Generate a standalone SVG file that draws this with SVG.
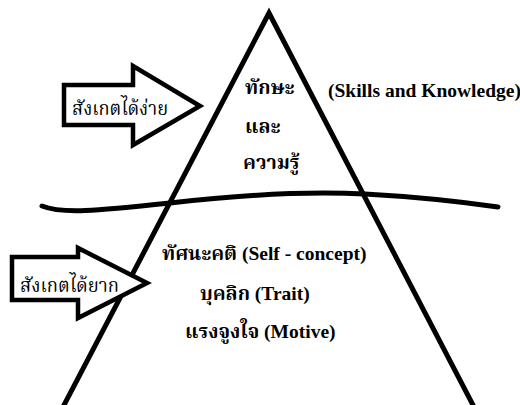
<svg xmlns="http://www.w3.org/2000/svg" width="520" height="405" viewBox="0 0 520 405">
  <style>
    .line { fill: none; stroke: #000; stroke-width: 5; stroke-linecap: round; stroke-linejoin: miter; }
    .arrow { fill: #fff; stroke: #000; stroke-width: 4.5; stroke-linejoin: miter; }
    .th { font-family: "Liberation Serif", "Noto Serif Thai", "Noto Sans Thai", serif; fill: #000; }
    .lbl { font-size: 20px; }
    .body { font-size: 19.5px; font-weight: bold; }
  </style>
  <rect width="520" height="405" fill="#fff"/>

  <!-- pyramid outline and dividing wave -->
  <g id="connectors">
    <path class="line" d="M63,407 L269,13 L474,407" stroke-linecap="butt"/>
    <path class="line" d="M42,206 C62,214 95,211 170,203 C230,196 300,191 365,194 C420,197 470,203 498,207"/>
  </g>

  <!-- arrow: easy to observe -->
  <g id="arrow-easy">
    <path class="arrow" d="M64,85 L133,85 L133,66 L200,106 L133,145 L133,125 L64,125 Z"/>
    <text class="th lbl" x="72" y="115" textLength="96" lengthAdjust="spacingAndGlyphs">สังเกตได้ง่าย</text>
  </g>

  <!-- arrow: hard to observe -->
  <g id="arrow-hard">
    <path class="arrow" d="M12,257 L78,257 L78,248 L147,283 L78,318 L78,300 L12,300 Z"/>
    <text class="th lbl" x="20" y="292" textLength="99" lengthAdjust="spacingAndGlyphs">สังเกตได้ยาก</text>
  </g>

  <!-- upper tier: skills and knowledge -->
  <g id="tier-upper">
    <text class="th body" x="245" y="94">ทักษะ</text>
    <text class="th body" x="245" y="133">และ</text>
    <text class="th body" x="243" y="169">ความรู้</text>
    <text class="th body" x="328" y="97">(Skills and Knowledge)</text>
  </g>

  <!-- lower tier: self-concept, trait, motive -->
  <g id="tier-lower">
    <text class="th body" x="162" y="260">ทัศนะคติ (Self - concept)</text>
    <text class="th body" x="200" y="300">บุคลิก (Trait)</text>
    <text class="th body" x="185" y="338">แรงจูงใจ (Motive)</text>
  </g>
</svg>
